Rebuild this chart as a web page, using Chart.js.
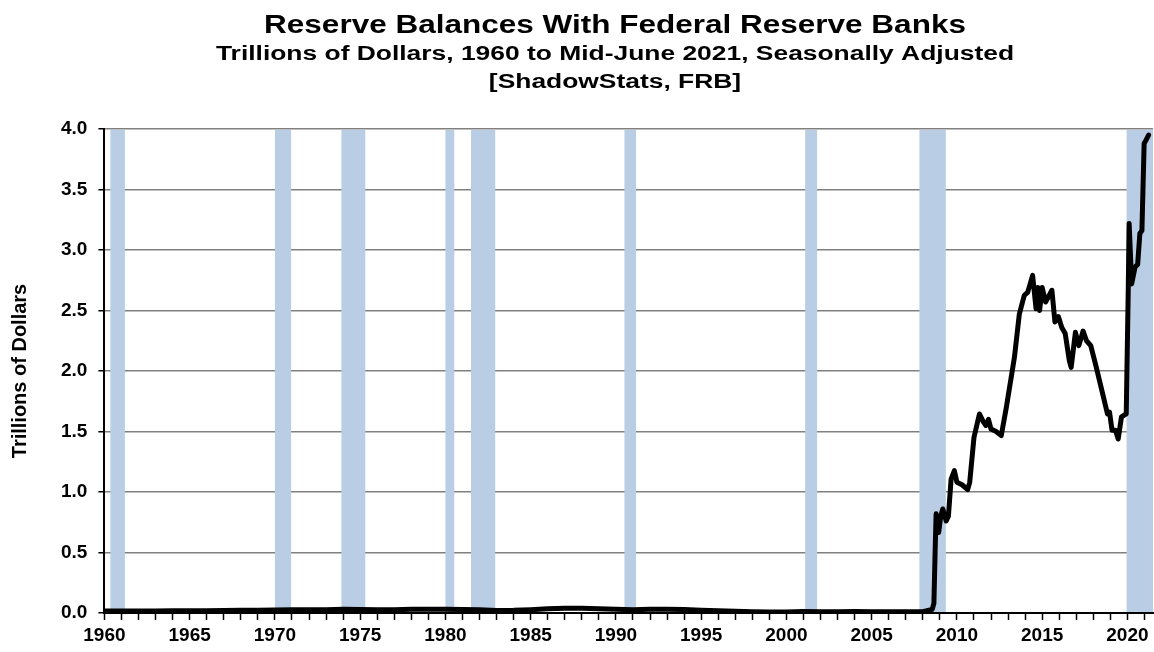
<!DOCTYPE html>
<html>
<head>
<meta charset="utf-8">
<title>Reserve Balances With Federal Reserve Banks</title>
<script src="https://cdn.jsdelivr.net/npm/chart.js@4.4.0/dist/chart.umd.min.js"></script>
<style>
  html, body { margin: 0; padding: 0; background: #fff; }
  #wrap { width: 1154px; height: 652px; }
</style>
</head>
<body>
<div id="wrap"><canvas id="reserveChart"></canvas></div>
<script>
// decimal years and reserve balances (trillions of dollars)
var years = [
    1960, 1961, 1962, 1963, 1964, 1965, 1966, 1967, 1968, 1969,
    1970, 1971, 1972, 1973, 1974, 1975, 1976, 1977, 1978, 1979,
    1980, 1981, 1982, 1983, 1984, 1985, 1986, 1987, 1988, 1989,
    1990, 1991, 1992, 1993, 1994, 1995, 1996, 1997, 1998, 1999,
    2000, 2001, 2002, 2003, 2004, 2005, 2006, 2007, 2008, 2008.55,
    2008.65, 2008.72, 2008.78, 2008.93, 2009.05, 2009.17, 2009.37, 2009.5, 2009.66, 2009.85,
    2010.0, 2010.3, 2010.63, 2010.75, 2011.0, 2011.32, 2011.55, 2011.7, 2011.85, 2012.0,
    2012.3, 2012.6, 2012.9, 2013.37, 2013.66, 2013.95, 2014.15, 2014.44, 2014.64, 2014.75,
    2014.85, 2015.0, 2015.2, 2015.57, 2015.75, 2015.95, 2016.15, 2016.35, 2016.59, 2016.7,
    2016.95, 2017.15, 2017.4, 2017.6, 2017.85, 2018.15, 2018.5, 2018.83, 2018.95, 2019.1,
    2019.3, 2019.46, 2019.65, 2019.93, 2020.05, 2020.1, 2020.25, 2020.45, 2020.6, 2020.73,
    2020.85, 2020.98, 2021.1, 2021.24
];
var balances = [
    0.017, 0.017, 0.017, 0.017, 0.018, 0.018, 0.019, 0.020, 0.022, 0.023,
    0.024, 0.026, 0.026, 0.027, 0.030, 0.028, 0.026, 0.027, 0.030, 0.030,
    0.031, 0.028, 0.026, 0.021, 0.022, 0.027, 0.035, 0.040, 0.039, 0.036,
    0.032, 0.026, 0.030, 0.032, 0.028, 0.023, 0.018, 0.014, 0.010, 0.009,
    0.008, 0.012, 0.010, 0.011, 0.012, 0.010, 0.010, 0.010, 0.010, 0.030,
    0.08, 0.50, 0.82, 0.665, 0.80, 0.86, 0.76, 0.80, 1.107, 1.176,
    1.08, 1.06, 1.02, 1.08, 1.45, 1.645, 1.58, 1.55, 1.60, 1.52,
    1.50, 1.466, 1.70, 2.11, 2.47, 2.625, 2.65, 2.79, 2.515, 2.69,
    2.50, 2.69, 2.57, 2.667, 2.405, 2.45, 2.36, 2.31, 2.087, 2.03,
    2.32, 2.21, 2.33, 2.25, 2.21, 2.045, 1.84, 1.645, 1.66, 1.51,
    1.51, 1.438, 1.62, 1.645, 2.69, 3.22, 2.72, 2.86, 2.88, 3.136,
    3.16, 3.88, 3.91, 3.95
];
// shaded recession periods [start, end]
var recessionStart = [1960.35, 1970.0, 1973.9, 1980.0, 1981.5, 1990.5, 2001.1, 2007.8, 2019.95];
var recessionEnd   = [1961.2, 1970.95, 1975.3, 1980.52, 1982.92, 1991.18, 2001.8, 2009.35, 2021.5];

var yTicks = [0, 0.5, 1.0, 1.5, 2.0, 2.5, 3.0, 3.5, 4.0];

var titleText = 'Reserve Balances With Federal Reserve Banks';
var subtitleText = ['Trillions of Dollars, 1960 to Mid-June 2021, Seasonally Adjusted', '[ShadowStats, FRB]'];

var points = [];
for (var i = 0; i < years.length; i++) {
    points.push({ x: years[i], y: balances[i] });
}

var FONT = '"Liberation Sans", Arial, sans-serif';

// recession shading, drawn under the line but over the grid
var recessionPlugin = {
    id: 'recessions',
    beforeDatasetsDraw: function (chart) {
        var ctx = chart.ctx;
        var area = chart.chartArea;
        var xs = chart.scales.x;
        ctx.save();
        ctx.fillStyle = '#b9cde5';
        for (var i = 0; i < recessionStart.length; i++) {
            var x1 = xs.getPixelForValue(recessionStart[i]);
            var x2 = xs.getPixelForValue(recessionEnd[i]);
            ctx.fillRect(x1, area.top + 1, x2 - x1, area.bottom - area.top - 2);
        }
        ctx.restore();
    }
};

// the original headings are set in a horizontally widened bold face
var headingPlugin = {
    id: 'headings',
    afterDraw: function (chart) {
        var ctx = chart.ctx;
        var cx = 615;
        var lines = [
            { text: titleText, size: 25, stretch: 1.26, y: 33 },
            { text: subtitleText[0], size: 20, stretch: 1.32, y: 60 },
            { text: subtitleText[1], size: 20, stretch: 1.32, y: 88 }
        ];
        ctx.save();
        ctx.fillStyle = '#000';
        ctx.textAlign = 'center';
        ctx.textBaseline = 'alphabetic';
        lines.forEach(function (l) {
            ctx.save();
            ctx.font = 'bold ' + l.size + 'px ' + FONT;
            ctx.translate(cx, l.y);
            ctx.scale(l.stretch, 1);
            ctx.fillText(l.text, 0, 0);
            ctx.restore();
        });
        ctx.restore();
    }
};

Chart.defaults.font.family = FONT;
Chart.defaults.font.weight = 'bold';
Chart.defaults.color = '#000';

var ctx = document.getElementById('reserveChart').getContext('2d');
var myChart = new Chart(ctx, {
    type: 'line',
    data: {
        datasets: [{
            label: 'Reserve Balances',
            data: points,
            borderColor: '#000',
            borderWidth: 5,
            borderJoinStyle: 'round',
            borderCapStyle: 'round',
            pointRadius: 0,
            tension: 0,
            fill: false
        }]
    },
    options: {
        responsive: true,
        maintainAspectRatio: false,
        animation: false,
        layout: { padding: { left: 8, right: 1, top: 129, bottom: 0 } },
        plugins: {
            legend: { display: false },
            tooltip: { enabled: false },
            title: { display: false }
        },
        scales: {
            x: {
                type: 'linear',
                min: 1960,
                max: 2021.5,
                afterBuildTicks: function (axis) {
                    var t = [];
                    for (var y = 1960; y <= 2021; y++) t.push({ value: y });
                    axis.ticks = t;
                },
                ticks: {
                    autoSkip: false,
                    maxRotation: 0,
                    padding: 6.5,
                    font: { size: 19, weight: 'bold', lineHeight: 1.0 },
                    callback: function (v) { return v % 5 === 0 ? String(v) : ''; }
                },
                grid: {
                    drawOnChartArea: false,
                    drawTicks: true,
                    tickLength: 7,
                    tickColor: '#000',
                    tickWidth: 1.5
                },
                border: { color: '#000', width: 2 }
            },
            y: {
                min: 0,
                max: 4,
                afterBuildTicks: function (axis) {
                    axis.ticks = yTicks.map(function (v) { return { value: v }; });
                },
                ticks: {
                    padding: 11,
                    font: { size: 19, weight: 'bold' },
                    callback: function (v) { return v.toFixed(1); }
                },
                grid: {
                    color: '#808080',
                    lineWidth: 1.5,
                    tickColor: '#000',
                    tickLength: 6
                },
                border: { color: '#000', width: 2 },
                title: {
                    display: true,
                    text: 'Trillions of Dollars',
                    font: { size: 20, weight: 'bold' },
                    padding: { top: 0, bottom: 18 }
                }
            }
        }
    },
    plugins: [recessionPlugin, headingPlugin]
});
</script>
</body>
</html>
